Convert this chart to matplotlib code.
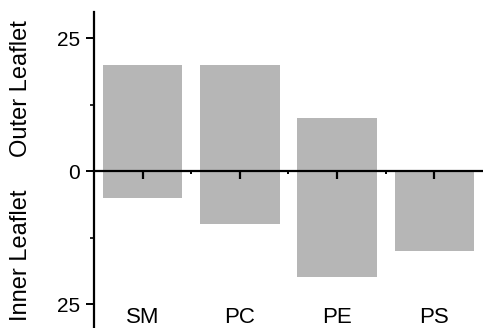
import matplotlib.pyplot as plt
import numpy as np
from matplotlib.ticker import FixedLocator

# lipid distribution between the two leaflets (percent)
lipids = ["SM", "PC", "PE", "PS"]
outer_leaflet = [20, 20, 10, 0]
inner_leaflet = [5, 10, 20, 15]
ytick_vals = [-25, 0, 25]
ytick_labels = ["25", "0", "25"]

plt.rcParams['font.family'] = ['Liberation Sans', 'DejaVu Sans']

fig = plt.figure(figsize=(4.83, 3.28), dpi=100)
ax = fig.add_axes([0.1946, 0.0, 0.8054, 0.963])

x = np.arange(len(lipids))
bar_color = "#b6b6b6"
ax.bar(x, outer_leaflet, width=0.82, color=bar_color, zorder=1)
ax.bar(x, [-v for v in inner_leaflet], width=0.82, color=bar_color, zorder=1)

ax.set_xlim(-0.5, 3.5)
ax.set_ylim(-29.5, 29.9)

# spines
for s in ["top", "right"]:
    ax.spines[s].set_visible(False)
ax.spines["bottom"].set_position(("data", 0))
ax.spines["bottom"].set_linewidth(1.6)
ax.spines["left"].set_linewidth(1.6)
ax.spines["bottom"].set_zorder(3)

# x ticks on the zero line
ax.set_xticks(x)
ax.set_xticklabels([])
ax.xaxis.set_minor_locator(FixedLocator(x[:-1] + 0.5))
ax.tick_params(axis="x", which="major", direction="out", length=5.5, width=1.6)
ax.tick_params(axis="x", which="minor", direction="out", length=2.5, width=1.4)

# y ticks
ax.set_yticks(ytick_vals)
ax.set_yticklabels(ytick_labels, fontsize=15)
ax.yaxis.set_minor_locator(FixedLocator([-12.5, 12.5]))
ax.tick_params(axis="y", which="major", direction="out", length=6, width=1.4, pad=4)
ax.tick_params(axis="y", which="minor", direction="out", length=3, width=1.2)

# category names under the bars
for xi, name in zip(x, lipids):
    ax.text(xi, -27.6, name, ha="center", va="center", fontsize=16)

# leaflet labels in the left margin
label_x = -0.5 - (94 - 20) / 98.0
ax.text(label_x, 15.6, "Outer Leaflet", rotation=90, ha="center", va="center",
        fontsize=17, clip_on=False)
ax.text(label_x, -15.9, "Inner Leaflet", rotation=90, ha="center", va="center",
        fontsize=17, clip_on=False)

fig.savefig("out.png", dpi=100)
